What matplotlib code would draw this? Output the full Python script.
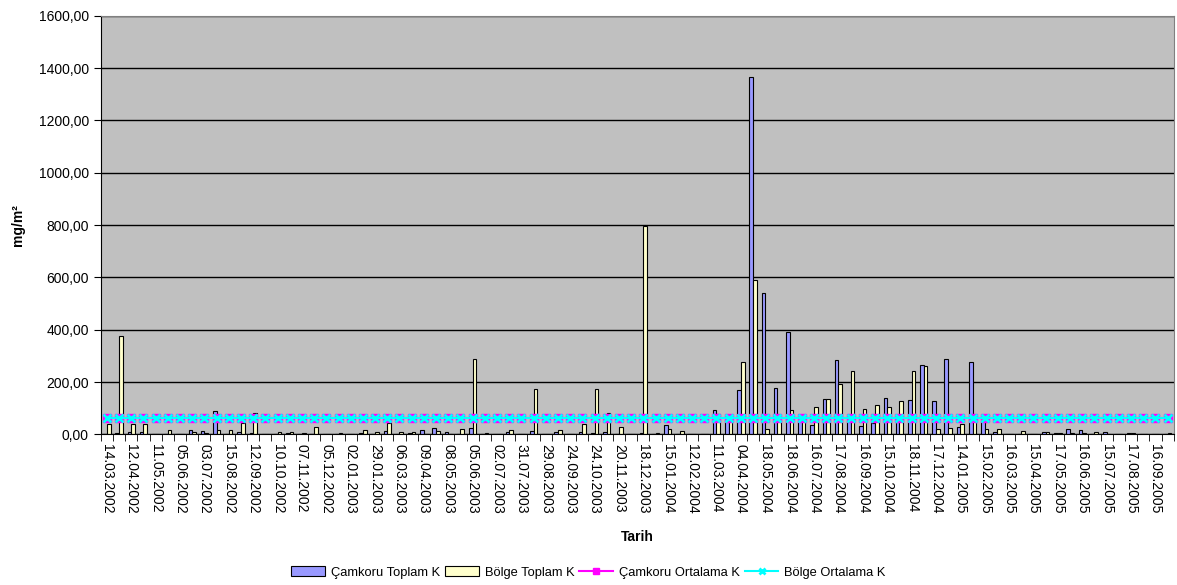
import matplotlib
matplotlib.use("Agg")
from matplotlib import pyplot as plt
from matplotlib.ticker import FixedLocator, FuncFormatter
from matplotlib.transforms import ScaledTranslation
import numpy as np

plt.rcParams["font.family"] = ["Liberation Sans", "DejaVu Sans"]

# labels shown on every second category (88 categories in total)
labels = [
    "14.03.2002", "12.04.2002", "11.05.2002", "05.06.2002", "03.07.2002",
    "15.08.2002", "12.09.2002", "10.10.2002", "07.11.2002", "05.12.2002",
    "02.01.2003", "29.01.2003", "06.03.2003", "09.04.2003", "08.05.2003",
    "05.06.2003", "02.07.2003", "31.07.2003", "29.08.2003", "24.09.2003",
    "24.10.2003", "20.11.2003", "18.12.2003", "15.01.2004", "12.02.2004",
    "11.03.2004", "04.04.2004", "18.05.2004", "18.06.2004", "16.07.2004",
    "17.08.2004", "16.09.2004", "15.10.2004", "18.11.2004", "17.12.2004",
    "14.01.2005", "15.02.2005", "16.03.2005", "15.04.2005", "17.05.2005",
    "16.06.2005", "15.07.2005", "17.08.2005", "16.09.2005",
]

camkoru_toplam = [
    3, 5, 9, 10, 2, 2, 2, 18, 12, 88,
    2, 10, 5, 2, 2, 4, 2, 2, 1, 2,
    1, 6, 1, 13, 1, 5, 16, 24, 9, 3,
    24, 1, 1, 9, 1, 14, 1, 10, 2, 9,
    4, 9, 2, 1, 6, 1, 37, 1, 1, 1,
    93, 55, 170, 1367, 540, 177, 393, 50, 38, 135,
    286, 50, 33, 45, 140, 55, 130, 265, 128, 287,
    29, 277, 50, 9, 1, 1, 2, 10, 6, 20,
    18, 1, 8, 2, 4, 2, 2, 2,
]

bolge_toplam = [
    40, 377, 40, 40, 2, 18, 1, 8, 6, 18,
    18, 42, 81, 1, 8, 10, 5, 27, 1, 5,
    2, 19, 10, 42, 11, 9, 1, 15, 2, 22,
    287, 6, 1, 19, 1, 175, 2, 18, 2, 39,
    173, 81, 29, 3, 797, 6, 22, 14, 1, 1,
    78, 60, 275, 590, 20, 55, 95, 50, 104, 135,
    191, 243, 97, 114, 106, 126, 243, 263, 22, 23,
    39, 50, 20, 22, 3, 15, 2, 10, 4, 4,
    6, 9, 2, 2, 5, 3, 2, 6,
]

camkoru_ortalama = 62.0
bolge_ortalama = 61.5

n = len(camkoru_toplam)
x = np.arange(n)

fig = plt.figure(figsize=(11.77, 5.85), dpi=100)
ax = fig.add_axes([0.0856, 0.2573, 0.9116, 0.7159])
ax.set_facecolor("#C0C0C0")
ax.set_axisbelow(True)

w = 0.3
b1 = ax.bar(x - w / 2, camkoru_toplam, width=w, color="#9999FF",
            edgecolor="black", linewidth=0.8, label="Çamkoru Toplam K", zorder=2)
b2 = ax.bar(x + w / 2, bolge_toplam, width=w, color="#FFFFCC",
            edgecolor="black", linewidth=0.8, label="Bölge Toplam K", zorder=2)

l1, = ax.plot(x, [camkoru_ortalama] * n, color="#FF00FF", lw=1.5, marker="s",
              ms=5.5, mec="#FF00FF", mfc="#FF00FF", label="Çamkoru Ortalama K", zorder=3)
l2, = ax.plot(x, [bolge_ortalama] * n, color="#00FFFF", lw=1.5, marker="x",
              ms=6, mew=2, mec="#00FFFF", label="Bölge Ortalama K", zorder=4)

ax.set_xlim(-0.5, n - 0.5)
ax.set_ylim(0, 1600)
ax.set_yticks(np.arange(0, 1601, 200))
ax.yaxis.set_major_formatter(FuncFormatter(lambda v, p: f"{v:.2f}".replace(".", ",")))
ax.yaxis.grid(True, color="black", lw=1)
ax.tick_params(axis="y", direction="out", length=5, labelsize=10)

ax.set_xticks(x[::2])
ax.set_xticklabels(labels, rotation=270, fontsize=10)
shift = ScaledTranslation(-4 / 100, 0, fig.dpi_scale_trans)
for t in ax.get_xticklabels():
    t.set_transform(t.get_transform() + shift)
ax.xaxis.set_minor_locator(FixedLocator(np.arange(n + 1) - 0.5))
ax.tick_params(axis="x", which="major", length=0, pad=7)
ax.tick_params(axis="x", which="minor", length=5, direction="out")

for side in ["top", "right"]:
    ax.spines[side].set_color("#808080")
for side in ["left", "bottom"]:
    ax.spines[side].set_color("black")

ax.set_ylabel("mg/m²", fontsize=10, fontweight="bold")
ax.yaxis.set_label_coords(-0.071, 0.5)
ax.set_xlabel("Tarih", fontsize=10, fontweight="bold")
ax.xaxis.set_label_coords(0.5, -0.228)

fig.legend([b1, b2, l1, l2],
           ["Çamkoru Toplam K", "Bölge Toplam K", "Çamkoru Ortalama K", "Bölge Ortalama K"],
           loc="center", bbox_to_anchor=(0.5, 0.022), ncol=4, frameon=False,
           fontsize=9.3, handlelength=2.6, handleheight=0.9, handletextpad=0.45,
           columnspacing=0.4, markerscale=0.8)

fig.savefig("out.png", dpi=100)
